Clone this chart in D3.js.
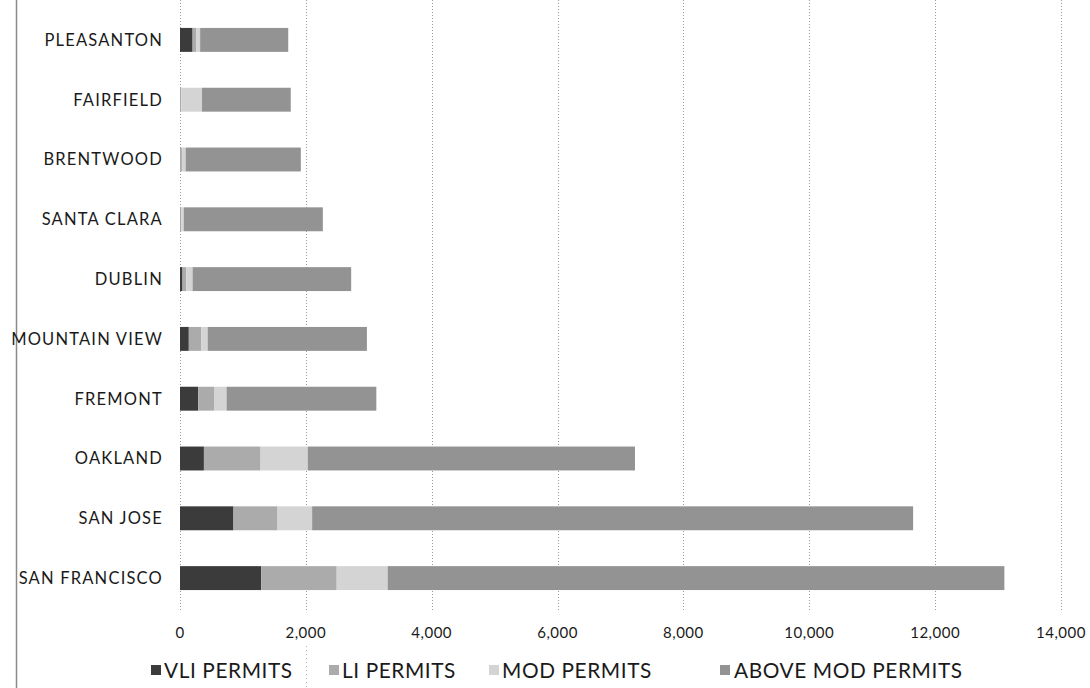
<!DOCTYPE html>
<html>
<head>
<meta charset="utf-8">
<script src="https://cdn.jsdelivr.net/npm/d3@7"></script>
<style>
  html, body { margin: 0; padding: 0; background: #fff; }
  svg { display: block; font-family: "Lato", "Open Sans", sans-serif; }
</style>
</head>
<body>
<svg id="chart" width="1090" height="688"></svg>
<script>
// top to bottom, as drawn
const cities = ["PLEASANTON", "FAIRFIELD", "BRENTWOOD", "SANTA CLARA", "DUBLIN",
  "MOUNTAIN VIEW", "FREMONT", "OAKLAND", "SAN JOSE", "SAN FRANCISCO"];
const vliPermits = [200, 0, 0, 0, 40, 140, 290, 380, 850, 1290];
const liPermits = [60, 20, 30, 20, 60, 200, 250, 900, 700, 1200];
const modPermits = [60, 330, 60, 40, 100, 100, 200, 750, 550, 810];
const aboveModPermits = [1400, 1410, 1830, 2210, 2520, 2530, 2380, 5200, 9550, 9800];
const seriesNames = ["VLI PERMITS", "LI PERMITS", "MOD PERMITS", "ABOVE MOD PERMITS"];
const xTicks = [0, 2000, 4000, 6000, 8000, 10000, 12000, 14000];

const colors = ["#3b3b3b", "#ababab", "#d4d4d4", "#939393"];

const svg = d3.select("#chart");
const height = 688;

const rows = cities.map((city, i) => ({
  city,
  vli: vliPermits[i],
  li: liPermits[i],
  mod: modPermits[i],
  above: aboveModPermits[i],
}));
const keys = ["vli", "li", "mod", "above"];
const stacked = d3.stack().keys(keys)(rows);

const x = d3.scaleLinear().domain([0, 14000]).range([180, 1061]);
const y = d3.scaleBand().domain(cities).range([10, 608]).paddingInner(0.6).paddingOuter(0.3);

// scan border on the left
svg.append("line")
  .attr("x1", 16.5).attr("x2", 16.5).attr("y1", 0).attr("y2", height)
  .attr("stroke", "#8a8a8a").attr("stroke-width", 1.5);

// dotted gridlines
svg.append("g")
  .selectAll("line")
  .data(xTicks)
  .join("line")
  .attr("x1", (d) => Math.round(x(d)) + 0.5)
  .attr("x2", (d) => Math.round(x(d)) + 0.5)
  .attr("y1", 0)
  .attr("y2", 612)
  .attr("stroke", "#9a9a9a")
  .attr("stroke-width", 1)
  .attr("stroke-dasharray", "1,2");

// faint scan fold continuing below the 2,000 line
svg.append("line")
  .attr("x1", Math.round(x(2000)) + 0.5)
  .attr("x2", Math.round(x(2000)) + 0.5)
  .attr("y1", 646)
  .attr("y2", height)
  .attr("stroke", "#b5b5b5")
  .attr("stroke-dasharray", "1,3");

// bars
svg.append("g")
  .selectAll("g")
  .data(stacked)
  .join("g")
  .attr("fill", (d, i) => colors[i])
  .selectAll("rect")
  .data((d) => d)
  .join("rect")
  .attr("x", (d) => x(d[0]))
  .attr("y", (d) => y(d.data.city))
  .attr("width", (d) => Math.max(0, x(d[1]) - x(d[0])))
  .attr("height", y.bandwidth());

// category labels
svg.append("g")
  .selectAll("text")
  .data(cities)
  .join("text")
  .attr("x", 163)
  .attr("y", (d) => y(d) + y.bandwidth() / 2)
  .attr("dy", "0.36em")
  .attr("text-anchor", "end")
  .attr("font-size", 16.5)
  .attr("letter-spacing", 1.2)
  .attr("fill", "#1a1a1a")
  .text((d) => d);

// x tick labels
const fmt = d3.format(",");
svg.append("g")
  .selectAll("text")
  .data(xTicks)
  .join("text")
  .attr("x", (d) => x(d))
  .attr("y", 638)
  .attr("text-anchor", "middle")
  .attr("font-size", 15)
  .attr("letter-spacing", 0.5)
  .attr("fill", "#1a1a1a")
  .text((d) => fmt(d));

// legend
const legendX = [151, 329, 489, 720];
const legend = svg.append("g")
  .selectAll("g")
  .data(seriesNames)
  .join("g")
  .attr("transform", (d, i) => `translate(${legendX[i]},670)`);

legend.append("rect")
  .attr("x", 0).attr("y", -5)
  .attr("width", 10).attr("height", 10)
  .attr("fill", (d, i) => colors[i]);

legend.append("text")
  .attr("x", (d, i) => (i === 3 ? 14 : 13))
  .attr("y", 0)
  .attr("dy", "0.36em")
  .attr("font-size", 20.8)
  .attr("letter-spacing", 0.6)
  .attr("fill", "#1a1a1a")
  .text((d) => d);
</script>
</body>
</html>
